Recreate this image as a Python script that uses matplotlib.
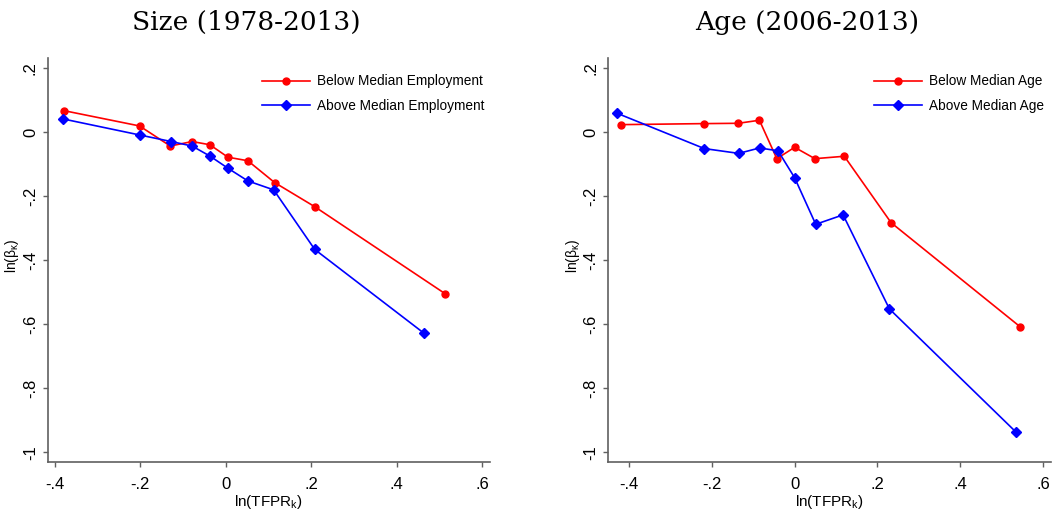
import numpy as np
import matplotlib
matplotlib.use("Agg")
import matplotlib.pyplot as plt

plt.rcParams["font.family"] = ["Liberation Sans", "DejaVu Sans"]
plt.rcParams["mathtext.fontset"] = "custom"
plt.rcParams["mathtext.rm"] = "Liberation Sans"
plt.rcParams["mathtext.it"] = "Liberation Sans"

# Size panel (1978-2013)
size_below_x = [-0.379, -0.202, -0.130, -0.079, -0.0375, 0.005, 0.0515, 0.114, 0.208, 0.514]
size_below_y = [0.0675, 0.0197, -0.043, -0.029, -0.039, -0.078, -0.089, -0.157, -0.2325, -0.505]
size_above_x = [-0.381, -0.202, -0.128, -0.079, -0.0365, 0.005, 0.0515, 0.112, 0.208, 0.464]
size_above_y = [0.0416, -0.0084, -0.029, -0.043, -0.075, -0.1125, -0.152, -0.180, -0.366, -0.628]

# Age panel (2006-2013)
age_below_x = [-0.419, -0.218, -0.136, -0.085, -0.043, 0.0, 0.049, 0.120, 0.233, 0.545]
age_below_y = [0.0238, 0.027, 0.028, 0.0375, -0.0825, -0.047, -0.0825, -0.075, -0.2825, -0.608]
age_above_x = [-0.430, -0.218, -0.135, -0.0845, -0.040, 0.0, 0.051, 0.117, 0.229, 0.535]
age_above_y = [0.060, -0.051, -0.066, -0.049, -0.058, -0.142, -0.2875, -0.258, -0.552, -0.937]

x_ticks = [-0.4, -0.2, 0, 0.2, 0.4, 0.6]
y_ticks = [-1, -0.8, -0.6, -0.4, -0.2, 0, 0.2]


def stata_fmt(v):
    if abs(v) < 1e-9:
        return "0"
    s = f"{v:g}"
    return s.replace("0.", ".")


panels = [
    dict(title="Size (1978-2013)", rect=[0.0453, 0.1029, 0.4204, 0.7839], xlim=(-0.417, 0.618),
         below=(size_below_x, size_below_y), above=(size_above_x, size_above_y),
         labels=("Below Median Employment", "Above Median Employment"), leg_x=0.4845),
    dict(title="Age (2006-2013)", rect=[0.5782, 0.1029, 0.4208, 0.7839], xlim=(-0.45, 0.619),
         below=(age_below_x, age_below_y), above=(age_above_x, age_above_y),
         labels=("Below Median Age", "Above Median Age"), leg_x=0.600),
]

fig = plt.figure(figsize=(10.52, 5.15), dpi=100)

for p in panels:
    ax = fig.add_axes(p["rect"])
    ax.plot(*p["below"], color="#ff0000", lw=1.2, marker="o", ms=5, label=p["labels"][0])
    ax.plot(*p["above"], color="#0000ff", lw=1.2, marker="D", ms=5, label=p["labels"][1])
    ax.set_xlim(*p["xlim"])
    ax.set_ylim(-1.03, 0.231)
    ax.set_xticks(x_ticks)
    ax.set_xticklabels([stata_fmt(v) for v in x_ticks], fontsize=12)
    ax.set_yticks(y_ticks)
    ax.set_yticklabels([stata_fmt(v) for v in y_ticks], fontsize=12, rotation=90, va="center")
    for s in ["top", "right"]:
        ax.spines[s].set_visible(False)
    for s in ["left", "bottom"]:
        ax.spines[s].set_color("#606060")
        ax.spines[s].set_linewidth(1.2)
    ax.tick_params(colors="#606060", length=3.5, width=1, labelcolor="black")
    ax.tick_params(axis="x", pad=7)
    ax.tick_params(axis="y", pad=3.5)
    ax.set_xlabel(r"ln(TFPR$_\mathregular{k}$)", fontsize=11, labelpad=1)
    ax.set_ylabel(r"ln($\mathregular{\beta_\kappa}$)", fontsize=10, va="center")
    ax.yaxis.set_label_coords(-0.08, 0.51)
    # title sits a bit left of the axes centre in the original
    ax.text(0.45, 1.057, p["title"], transform=ax.transAxes, family="DejaVu Serif",
            fontsize=19, ha="center", va="bottom")
    ax.legend(loc="upper left", bbox_to_anchor=(p["leg_x"], 0.96), frameon=False, fontsize=9.8,
              handlelength=3.5, handletextpad=0.55, labelspacing=0.75,
              borderpad=0, borderaxespad=0)

fig.savefig("out.png", dpi=100)
